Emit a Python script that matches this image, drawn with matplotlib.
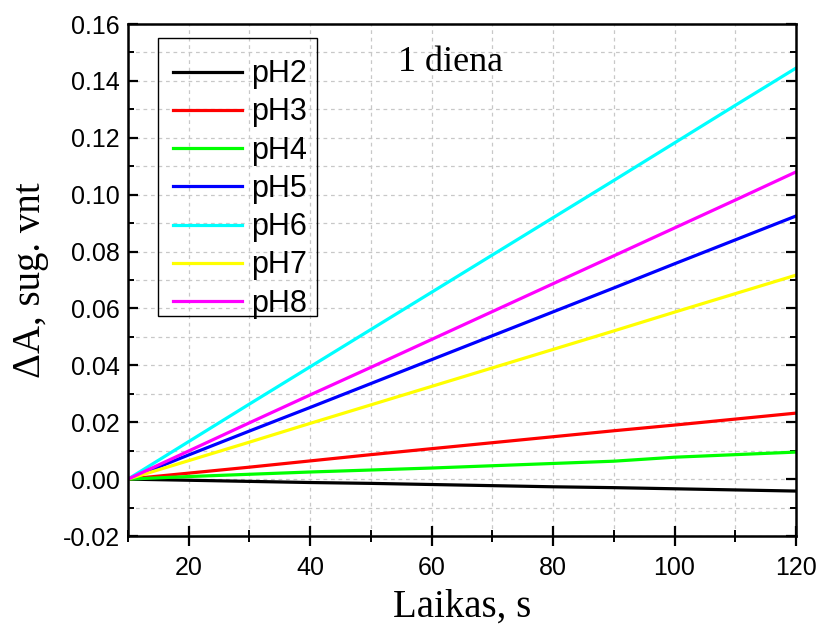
#!/usr/bin/env python3
"""Absorbance change vs time for pH2..pH8 after 1 day."""

import matplotlib
matplotlib.use("Agg")
import matplotlib.pyplot as plt
from matplotlib.patches import Rectangle
from matplotlib.ticker import MultipleLocator

# time, s
time_s = [10, 20, 30, 40, 50, 60, 70, 80, 90, 100, 110, 120]

# delta A at each 10 s
ph2 = [0.0, -0.0004, -0.0008, -0.0012, -0.0015, -0.0019, -0.0023, -0.0027, -0.0030, -0.0034, -0.0038, -0.0042]
ph3 = [0.0, 0.0021, 0.0042, 0.0064, 0.0086, 0.0107, 0.0128, 0.0149, 0.0170, 0.0190, 0.0211, 0.0232]
ph4 = [0.0, 0.0009, 0.0017, 0.0025, 0.0032, 0.0039, 0.0047, 0.0055, 0.0063, 0.0077, 0.0086, 0.0095]
ph5 = [0.0, 0.0085, 0.0169, 0.0252, 0.0336, 0.0420, 0.0504, 0.0588, 0.0672, 0.0757, 0.0841, 0.0925]
ph6 = [0.0, 0.0132, 0.0264, 0.0395, 0.0526, 0.0657, 0.0788, 0.0919, 0.1050, 0.1182, 0.1314, 0.1445]
ph7 = [0.0, 0.0065, 0.0130, 0.0196, 0.0261, 0.0326, 0.0391, 0.0456, 0.0521, 0.0587, 0.0652, 0.0717]
ph8 = [0.0, 0.0099, 0.0198, 0.0296, 0.0393, 0.0491, 0.0589, 0.0687, 0.0785, 0.0883, 0.0981, 0.1080]

labels = ["pH2", "pH3", "pH4", "pH5", "pH6", "pH7", "pH8"]
colors = ["#000000", "#ff0000", "#00ff00", "#0000ff", "#00ffff", "#ffff00", "#ff00ff"]

SANS = "Liberation Sans"
SERIF = "Liberation Serif"


def main() -> None:
    fig = plt.figure(figsize=(8.2, 6.3), dpi=100)
    ax = fig.add_axes([128 / 820, 1 - 536 / 630, 668 / 820, 512 / 630])

    for ys, lab, col in zip([ph2, ph3, ph4, ph5, ph6, ph7, ph8], labels, colors):
        ax.plot(time_s, ys, color=col, lw=2.3, label=lab, solid_joinstyle="round")

    ax.set_xlim(10, 120)
    ax.set_ylim(-0.02, 0.16)
    ax.xaxis.set_major_locator(MultipleLocator(20))
    ax.xaxis.set_minor_locator(MultipleLocator(10))
    ax.yaxis.set_major_locator(MultipleLocator(0.02))
    ax.yaxis.set_minor_locator(MultipleLocator(0.01))
    ax.yaxis.set_major_formatter(plt.FuncFormatter(lambda v, p: f"{v:.2f}"))

    ax.grid(True, which="both", color="#c8c8c8", ls=(0, (3, 3)), lw=0.9)
    ax.set_axisbelow(True)

    for sp in ax.spines.values():
        sp.set_linewidth(1.8)

    ax.tick_params(axis="x", which="major", direction="inout", length=15, width=1.6,
                   top=False, labelsize=18, pad=7)
    ax.tick_params(axis="x", which="minor", direction="inout", length=9, width=1.4, top=False)
    ax.tick_params(axis="y", which="major", direction="in", length=7, width=1.6,
                   right=True, labelsize=18, pad=6)
    ax.tick_params(axis="y", which="minor", direction="in", length=4, width=1.4, right=True)
    for t in ax.get_xticklabels() + ax.get_yticklabels():
        t.set_fontfamily(SANS)

    ax.set_xlabel("Laikas, s", fontsize=28, fontfamily=SERIF, labelpad=6)
    ax.set_ylabel("ΔA, sug. vnt", fontsize=28, fontfamily=SERIF, labelpad=10)

    ax.text(54.5, 0.1435, "1 diena", fontsize=26, fontfamily=SERIF, va="baseline")

    # legend entries without frame, frame drawn as its own box (Origin-style padding)
    ax.legend(loc="upper left", bbox_to_anchor=(0.045, 0.961), borderaxespad=0,
              prop={"family": SANS, "size": 22}, frameon=False,
              handlelength=2.25, handletextpad=0.3, labelspacing=0.27,
              borderpad=0.5)
    ax.add_patch(Rectangle((0.0449, 0.4297), 0.2380, 0.5430, transform=ax.transAxes,
                           fill=False, edgecolor="black", lw=1.0, zorder=5))

    fig.savefig("out.png", dpi=100)


if __name__ == "__main__":
    main()
